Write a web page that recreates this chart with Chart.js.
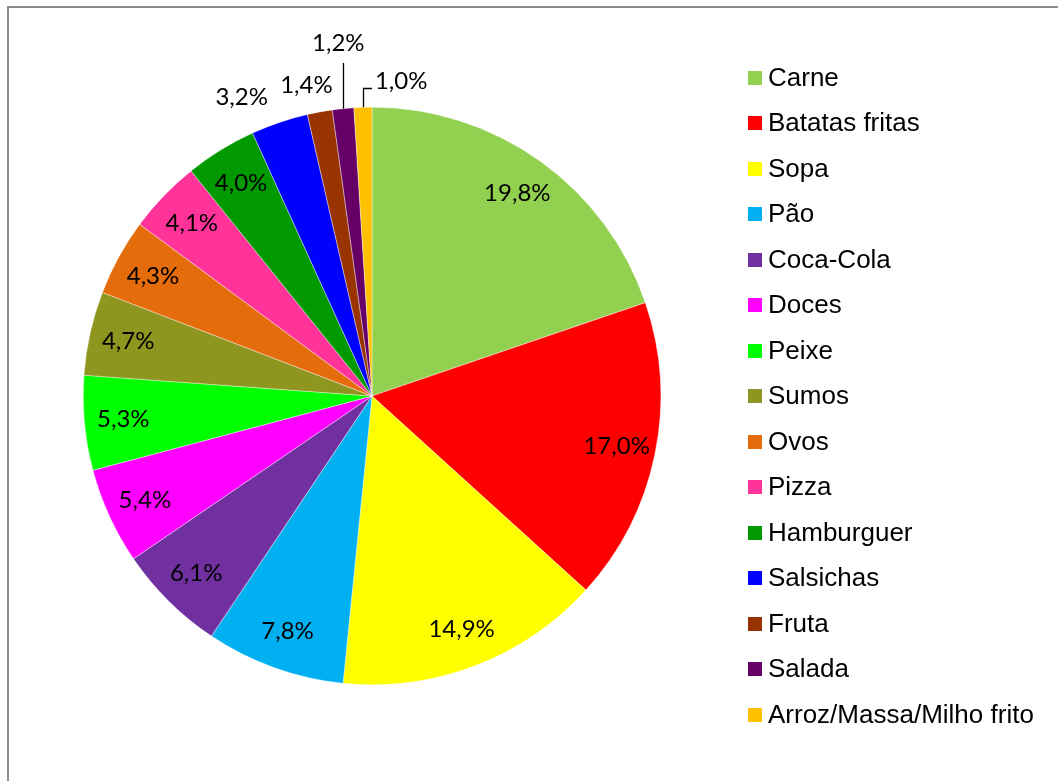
<!DOCTYPE html>
<html>
<head>
<meta charset="utf-8">
<script src="https://cdn.jsdelivr.net/npm/chart.js@4/dist/chart.umd.min.js"></script>
<style>
  body { margin: 0; background: #fff; }
  #wrap { position: relative; width: 1058px; height: 781px; overflow: hidden; }
  #frame { position: absolute; left: 7px; top: 6px; width: 1100px; height: 900px; border: 2px solid #8c8c8c; }
  canvas { position: absolute; left: 0; top: 0; }
</style>
</head>
<body>
<div id="wrap">
  <div id="frame"></div>
  <canvas id="chart" width="1058" height="781"></canvas>
</div>
<script>
const foods = ['Carne', 'Batatas fritas', 'Sopa', 'Pão', 'Coca-Cola', 'Doces', 'Peixe', 'Sumos',
  'Ovos', 'Pizza', 'Hamburguer', 'Salsichas', 'Fruta', 'Salada', 'Arroz/Massa/Milho frito'];
const shares = [19.8, 17.0, 14.9, 7.8, 6.1, 5.4, 5.3, 4.7, 4.3, 4.1, 4.0, 3.2, 1.4, 1.2, 1.0];
const sliceColors = ['#92d050', '#ff0000', '#ffff00', '#00b0f0', '#7030a0', '#ff00ff', '#00ff00', '#8e9620',
  '#e46c0a', '#ff3399', '#009900', '#0000ff', '#993300', '#660066', '#ffc000'];

const fmtPct = v => v.toFixed(1).replace('.', ',') + '%';

// percentage labels, small slices get pushed outside with leader lines
const pctLabels = {
  id: 'pctLabels',
  afterDatasetsDraw(chart, args, opts) {
    const ctx = chart.ctx;
    const meta = chart.getDatasetMeta(0);
    ctx.save();
    ctx.font = opts.font;
    ctx.textAlign = 'center';
    ctx.textBaseline = 'middle';
    ctx.strokeStyle = '#000';
    ctx.lineWidth = 1.3;
    meta.data.forEach((arc, i) => {
      const p = arc.getProps(['x', 'y', 'startAngle', 'endAngle', 'outerRadius'], true);
      const mid = (p.startAngle + p.endAngle) / 2;
      const text = fmtPct(shares[i]);
      const out = opts.outside[i];
      let r = p.outerRadius * opts.inside, a = mid;
      if (out) {
        r = p.outerRadius * out.r;
        a = mid + out.da * Math.PI / 180;
      }
      const lx = p.x + Math.cos(a) * r;
      const ly = p.y + Math.sin(a) * r;
      if (out && out.leader) {
        const ex = Math.round(p.x + Math.cos(mid) * p.outerRadius) + 0.5;
        const ey = p.y + Math.sin(mid) * p.outerRadius;
        const half = ctx.measureText(text).width / 2;
        ctx.beginPath();
        ctx.moveTo(ex, ey);
        if (out.leader === 'below') {
          ctx.lineTo(ex, ly + 20);
        } else {
          const ty = Math.round(ly + 6) + 0.5;
          ctx.lineTo(ex, ty);
          ctx.lineTo(lx - half - 3, ty);
        }
        ctx.stroke();
      }
      ctx.fillStyle = '#000';
      ctx.fillText(text, lx, ly);
    });
    ctx.restore();
  }
};

// legend column on the right
const sideLegend = {
  id: 'sideLegend',
  afterDraw(chart, args, opts) {
    const ctx = chart.ctx;
    const ds = chart.data.datasets[0];
    const n = chart.data.labels.length;
    const cy = (chart.chartArea.top + chart.chartArea.bottom) / 2;
    const y0 = cy - (n - 1) / 2 * opts.step;
    ctx.save();
    ctx.font = opts.font;
    ctx.textBaseline = 'middle';
    ctx.textAlign = 'left';
    chart.data.labels.forEach((lbl, i) => {
      const y = y0 + i * opts.step;
      ctx.fillStyle = ds.backgroundColor[i];
      ctx.fillRect(opts.x, Math.round(y - opts.box / 2), opts.box, opts.box);
      ctx.fillStyle = '#000';
      ctx.fillText(lbl, opts.x + opts.box + 6, y + 1);
    });
    ctx.restore();
  }
};

new Chart(document.getElementById('chart'), {
  type: 'pie',
  data: {
    labels: foods,
    datasets: [{
      data: shares,
      backgroundColor: sliceColors,
      borderColor: '#ffffff',
      borderWidth: 0.4
    }]
  },
  options: {
    responsive: false,
    animation: false,
    layout: { padding: { left: 83, top: 107, right: 397, bottom: 96 } },
    plugins: {
      legend: { display: false },
      tooltip: { enabled: false },
      pctLabels: {
        font: '24px Lato',
        inside: 0.865,
        outside: {
          11: { r: 1.128, da: -4.9 },
          12: { r: 1.10, da: -1.5 },
          13: { r: 1.228, da: 0.3, leader: 'below' },
          14: { r: 1.093, da: 7.1, leader: 'side' }
        }
      },
      sideLegend: { x: 748, box: 14, step: 45.5, font: '26px "Liberation Sans"' }
    }
  },
  plugins: [pctLabels, sideLegend]
});
</script>
</body>
</html>
